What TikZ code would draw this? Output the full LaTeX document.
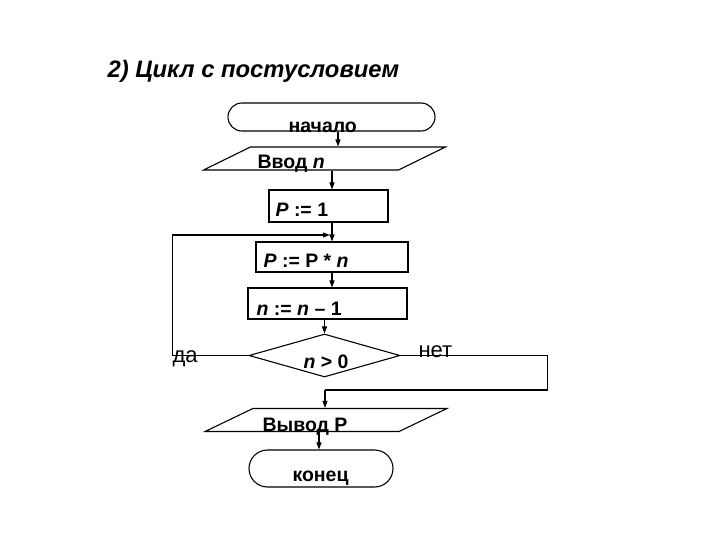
\documentclass[tikz,border=0pt]{standalone}
\usepackage{fontspec}
\setmainfont{Liberation Sans}
\usetikzlibrary{arrows.meta,shapes.geometric,shapes.misc}

\begin{document}
\begin{tikzpicture}[x=1pt, y=-1pt, line width=1.1pt,
  every node/.style={inner sep=0pt, font=\fontsize{19.5}{23}\selectfont\bfseries},
  term/.style={draw, rounded rectangle, minimum width=#1},
  proc/.style={draw, minimum width=#1},
  io/.style={draw, xslant=#1, minimum height=23},
  decision/.style={draw, diamond, minimum width=151, minimum height=43},
  txt/.style={anchor=base west},
  plain/.style={anchor=base west, font=\fontsize{22}{26}\selectfont},
  arr/.style={-{Triangle[length=7pt,width=5pt]}}]
  \useasboundingbox (0,0) rectangle (720,540);
  \node[anchor=base west, font=\fontsize{23.8}{28}\selectfont\bfseries\itshape] (title) at (107,78) {2) Цикл с постусловием};

  \node[term=207, minimum height=28] (start) at (331.5,117) {};
  \node[io=2.04, minimum width=195] (in) at (324.5,158.5) {};
  \node[proc=119, minimum height=32] (init) at (328.5,206) {};
  \node[proc=152, minimum height=30] (mult) at (332,257) {};
  \node[proc=159, minimum height=31] (dec) at (327.5,303.5) {};
  \node[decision] (test) at (324.5,355.5) {};
  \node[io=2.08, minimum width=194] (out) at (326,420) {};
  \node[term=144, minimum height=37] (stop) at (321,468.5) {};

  \node[txt] (tstart) at (288,133) {начало};
  \node[txt] (tin) at (257,169) {Ввод \textit{n}};
  \node[txt] (tinit) at (275,216) {\textit{P} := 1};
  \node[txt] (tmult) at (263,267) {\textit{P} := P * \textit{n}};
  \node[txt] (tdec) at (256,315) {\textit{n} := \textit{n} – 1};
  \node[txt] (ttest) at (303,368) {\textit{n} > 0};
  \node[txt] (tout) at (262,431) {Вывод P};
  \node[txt] (tstop) at (292,481) {конец};
  \node[plain] (yes) at (172,362) {да};
  \node[plain] (no) at (418,357) {нет};

  \coordinate (loop) at (330,235);
  \coordinate (merge) at (325,390);

  \draw[arr] (start.south -| 338,0) -- (in.north -| 338,0);
  \draw[arr] (in.south -| 332,0) -- (init.north -| 332,0);
  \draw[arr] (init.south -| 332,0) -- (mult.north -| 332,0);
  \draw[arr] (mult.south -| 332,0) -- (dec.north -| 332,0);
  \draw[arr] (dec.south -| test.north) -- (test.north);
  \draw[arr] (test.west) -- ++(-76,0) |- (loop);
  \draw (test.east) -- ++(147,0) |- (merge);
  \draw[arr] (merge) -- (out.north -| merge);
  \draw[arr] (out.south -| 319,0) -- (stop.north -| 319,0);
\end{tikzpicture}
\end{document}
